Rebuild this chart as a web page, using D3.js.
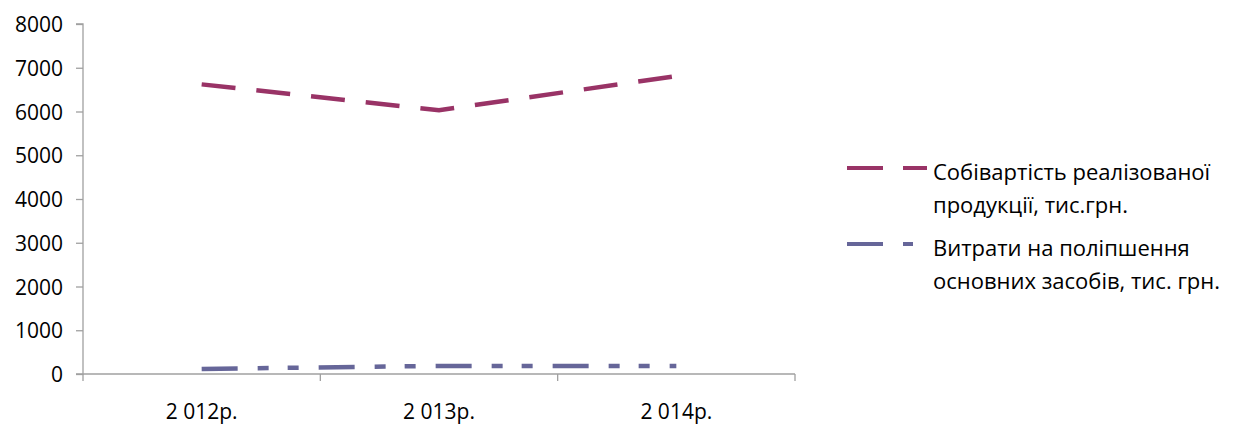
<!DOCTYPE html>
<html><head><meta charset="utf-8">
<script src="https://cdn.jsdelivr.net/npm/d3@7"></script>
<style>body{margin:0;background:#fff}svg{display:block}text{font-family:"Open Sans",sans-serif;fill:#000}</style>
</head><body>
<svg id="c" width="1238" height="426"></svg>
<script>
const categories = ["2 012р.", "2 013р.", "2 014р."];
const seriesNames = ["Собівартість реалізованої продукції, тис.грн.", "Витрати на поліпшення основних засобів, тис. грн."];
const costValues = [6620, 6030, 6810];
const improvementValues = [115, 185, 185];
const yTicks = [0, 1000, 2000, 3000, 4000, 5000, 6000, 7000, 8000];

const legendLines = [["Собівартість реалізованої", "продукції, тис.грн."], ["Витрати на поліпшення", "основних засобів, тис. грн."]];
const series = [
  {name: seriesNames[0], values: costValues, color: "#993366", dash: "34,21", legendDash: "36,20,24"},
  {name: seriesNames[1], values: improvementValues, color: "#666699", dash: "36,20,11,19,11,20", legendDash: "36,20,10"}
];

const svg = d3.select("#c");
const x0 = 83, x1 = 795, yTop = 24, yBot = 374;
const x = d3.scaleBand().domain(categories).range([x0, x1]);
const y = d3.scaleLinear().domain([0, 8000]).range([yBot, yTop]);

const axisColor = "#a0a0a0";
const yAxis = svg.append("g").attr("transform", `translate(${x0},0)`)
  .call(d3.axisLeft(y).tickValues(yTicks).tickSize(7).tickPadding(13).tickFormat(d3.format("d")));
yAxis.selectAll("text").style("font-size", "21px").attr("dy", "0.36em");
const xAxis = svg.append("g").attr("transform", `translate(0,${yBot})`)
  .call(d3.axisBottom(x).tickSize(0).tickPadding(0));
xAxis.selectAll("text").style("font-size", "21px").attr("dy", null).attr("y", 45);
const bounds = [x0, ...categories.map(c => x(c) + x.bandwidth())];
xAxis.selectAll("line.b").data(bounds).enter().append("line").attr("class","b")
  .attr("x1", d => d).attr("x2", d => d).attr("y1", 0).attr("y2", 7);
svg.selectAll(".domain, .tick line, line.b").attr("stroke", axisColor).attr("stroke-width", 1.3);
yAxis.select(".domain").attr("d", `M-7,${yTop}H0V${yBot}H-7`);
xAxis.select(".domain").attr("d", `M${x0},0H${x1}`);

const line = d3.line().x((d, i) => x(categories[i]) + x.bandwidth() / 2).y(d => y(d));
series.forEach(s => {
  svg.append("path").attr("d", line(s.values)).attr("fill", "none")
    .attr("stroke", s.color).attr("stroke-width", 4.5).attr("stroke-dasharray", s.dash);
});

const lg = svg.append("g");
const legendY = [168, 244];
series.forEach((s, i) => {
  const yy = legendY[i];
  lg.append("line").attr("x1", 847).attr("x2", 927).attr("y1", yy).attr("y2", yy)
    .attr("stroke", s.color).attr("stroke-width", 4).attr("stroke-dasharray", s.legendDash);
  legendLines[i].forEach((t, j) => {
    lg.append("text").attr("x", 933).attr("y", yy + 12 + j * 33)
      .style("font-size", "22px").text(t);
  });
});
</script>
</body></html>
